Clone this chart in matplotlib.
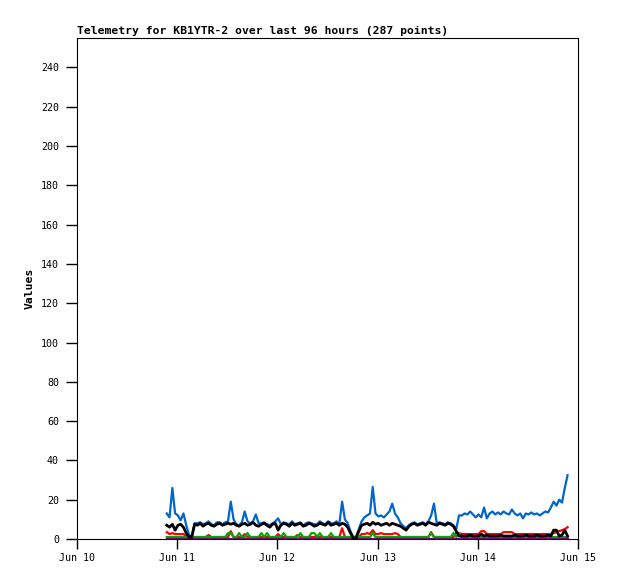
# telemetry chart for KB1YTR-2, last 96 hours
import pandas as pd
import matplotlib.pyplot as plt
import matplotlib.dates as mdates

# samples every 40 minutes (the plot shows 287 points, thinned here)
times = pd.date_range("2024-06-10 21:30", periods=145, freq="40min")

blue = [13, 11, 26, 13, 12, 9.5, 13, 7, 2, 1.5,
        8, 8, 8.5, 7.5, 8, 9, 7.5, 7, 8.5, 8.5,
        7.5, 8.5, 9, 19, 10, 7.5, 7, 8.5, 14, 9,
        8, 9, 12.5, 8, 8, 8.5, 7.5, 7, 8, 9,
        10.5, 7.5, 8.5, 8, 7.5, 9, 7.5, 8, 8.5, 7,
        8, 8.5, 8, 7.5, 7.5, 9, 8, 7.5, 9, 8,
        8, 9, 7.5, 19, 10, 8, 4, 1, 1, 5,
        9, 11, 12, 13, 26.5, 13, 11.5, 12, 11, 12.5,
        14, 18, 13, 11, 8, 6.5, 5.5, 7, 8, 8.5,
        7.5, 8, 8.5, 7.5, 9, 12, 18, 8, 8.5, 8,
        7.5, 8.5, 8, 7, 5, 12, 12, 13, 12.5, 14,
        12.5, 11, 12.5, 11, 16, 10.5, 13, 14, 12.5, 13.5,
        12.5, 14, 13, 12.5, 15, 13, 12, 13, 10.5, 13,
        12.5, 13.5, 12.5, 13, 12, 13, 14, 13.5, 16, 19,
        17, 20, 18.5, 26, 32.5]

black = [7, 6, 7.5, 4.5, 7, 7.5, 6, 3, 1, 1,
         7.5, 7, 8, 6.5, 7.5, 8, 7, 6.5, 7.5, 8,
         7, 7.5, 8, 7.5, 8, 7, 6.5, 7.5, 8, 7,
         7.5, 8.5, 7, 6.5, 7.5, 8, 7, 6, 7.5, 8,
         4.5, 7, 8, 7.5, 6.5, 8, 7, 7.5, 8, 6.5,
         7, 8, 7.5, 6.5, 7, 8, 7.5, 7, 8.5, 7,
         7.5, 8, 7, 8, 7.5, 6, 3, 0.5, 0.5, 4,
         7, 7.5, 8, 7, 8.5, 7.5, 8, 7, 7.5, 8,
         7, 8, 7.5, 7, 6.5, 5.5, 4.5, 6.5, 7.5, 8,
         7, 7.5, 8, 7, 8.5, 8, 7.5, 7, 8, 7.5,
         7, 8, 7.5, 6.5, 4, 1.5, 1.5, 1.5, 1.5, 2,
         1.5, 1.5, 1.5, 2.5, 1.5, 2, 1.5, 1.5, 1.5, 1.5,
         2, 1.5, 1.5, 1.5, 1.5, 2, 1.5, 1.5, 1.5, 2,
         1.5, 1.5, 1.5, 2, 1.5, 1.5, 1.5, 2, 1.5, 4.5,
         4.5, 1.5, 2, 4.5, 1.5]

red = [3.5, 2.5, 3, 2.5, 2.5, 2.5, 2.5, 1.5, 0.5, 0.5,
       1, 1, 1, 1, 1, 2, 1, 1, 1, 1,
       1, 1, 1, 4, 1, 1, 1, 1, 2.5, 1,
       1, 1, 1, 1, 1, 1, 1, 1, 1, 1,
       2.5, 1, 1, 1, 1, 1, 1, 2, 1, 1,
       1, 1, 1, 1, 1, 1, 1, 1, 1, 1,
       1, 1, 1, 5.5, 1, 1, 1, 1, 1, 1,
       2.5, 2.5, 3, 2.5, 4.5, 2.5, 2.5, 3, 2.5, 2.5,
       2.5, 2.5, 3, 2.5, 1, 1, 1, 1, 1, 1,
       1, 1, 1, 1, 1, 3.5, 1, 1, 1, 1,
       1, 1, 1, 1, 3.5, 3, 2.5, 2.5, 2.5, 2.5,
       2.5, 2.5, 2.5, 4, 4, 2.5, 2.5, 2.5, 2.5, 2.5,
       2.5, 3.5, 3.5, 3.5, 3.5, 2.5, 2.5, 2.5, 2.5, 2.5,
       2.5, 2.5, 2.5, 2.5, 2.5, 2.5, 2.5, 2.5, 2.5, 3,
       3.5, 4, 4.5, 5, 6]

green = [1, 1, 1, 1, 1, 1, 1, 1, 1, 1,
         1, 1, 1, 1, 1, 1, 1, 1, 1, 1,
         1, 1, 3, 3, 1, 1, 3, 1, 1, 3,
         1, 1, 1, 1, 3, 1, 3, 1, 1, 1,
         1, 1, 3, 1, 1, 1, 1, 1, 3, 1,
         1, 1, 3, 3, 1, 3, 1, 1, 1, 3,
         1, 1, 1, 1, 1, 1, 1, 1, 1, 1,
         1, 1, 1, 1, 3, 1, 1, 1, 1, 1,
         1, 1, 1, 1, 1, 1, 1, 1, 1, 1,
         1, 1, 1, 1, 1, 3, 1, 1, 1, 1,
         1, 1, 1, 3, 1, 3, 1, 1, 1, 1,
         1, 1, 1, 1, 1, 1, 1, 1, 1, 1,
         1, 1, 1, 1, 1, 1, 1, 1, 1, 1,
         1, 1, 1, 1, 1, 1, 1, 1, 1, 1,
         1, 1, 1, 1, 1]

purple = [0] * 145

fig = plt.figure(figsize=(6.18, 5.79), dpi=100)
ax = fig.add_axes([77 / 618, 40 / 579, 501 / 618, 501 / 579])

ax.plot(times, blue, color="#0066cc", lw=1.6)
ax.plot(times, red, color="#ff0000", lw=1.6)
ax.plot(times, green, color="#00aa00", lw=1.6)
ax.plot(times, purple, color="#800080", lw=1.6)
ax.plot(times, black, color="black", lw=2)

ax.set_xlim(pd.Timestamp("2024-06-10"), pd.Timestamp("2024-06-15"))
ax.set_ylim(0, 255)
ax.set_yticks(range(0, 260, 20))
ax.xaxis.set_major_locator(mdates.DayLocator())
ax.xaxis.set_major_formatter(mdates.DateFormatter("%b %d"))

ax.tick_params(axis="y", length=8, width=1, pad=5, labelsize=7.2)
ax.tick_params(axis="x", length=7, width=1, pad=3, labelsize=7.2)
for lab in ax.get_xticklabels() + ax.get_yticklabels():
    lab.set_family("DejaVu Sans Mono")

ax.set_ylabel("Values", family="DejaVu Sans Mono", fontweight="bold", size=8.2)
ax.yaxis.set_label_coords(-0.084, 0.5)
ax.set_title("Telemetry for KB1YTR-2 over last 96 hours (287 points)",
             loc="left", family="DejaVu Sans Mono", fontweight="bold", size=8.2, pad=3)

fig.savefig("out.png", dpi=100)
